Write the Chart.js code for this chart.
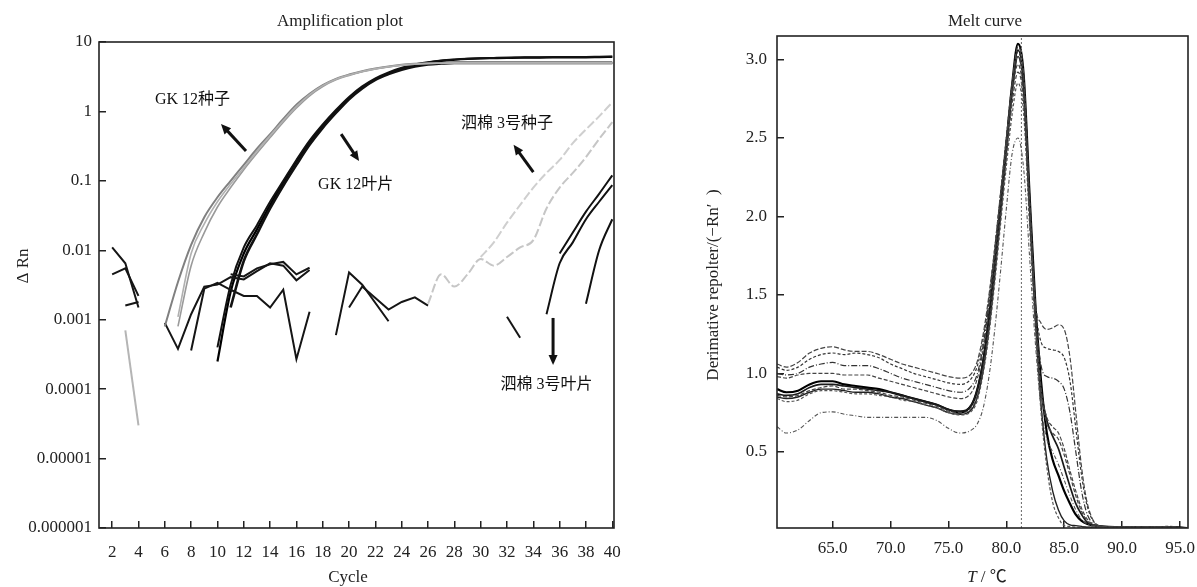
<!DOCTYPE html>
<html>
<head>
<meta charset="utf-8">
<script src="https://cdn.jsdelivr.net/npm/chart.js@4.4.1/dist/chart.umd.min.js"></script>
<style>
  html, body { margin: 0; padding: 0; background: #fff; }
  #amp { position: absolute; left: 0; top: 0; }
  #melt { position: absolute; left: 690px; top: 0; }
</style>
</head>
<body>
<canvas id="amp" width="690" height="587"></canvas>
<canvas id="melt" width="507" height="587"></canvas>
<script>
const _ = null;

// ---- amplification plot data (ΔRn per cycle, null = not drawn) ----
const cycles = [1,2,3,4,5,6,7,8,9,10,11,12,13,14,15,16,17,18,19,20,21,22,23,24,25,26,27,28,29,30,31,32,33,34,35,36,37,38,39,40];
const cycleTicks = [2,4,6,8,10,12,14,16,18,20,22,24,26,28,30,32,34,36,38,40];
const drnTicks = [0.000001, 0.00001, 0.0001, 0.001, 0.01, 0.1, 1, 10];
const drnTickLabels = ['0.000001', '0.00001', '0.0001', '0.001', '0.01', '0.1', '1', '10'];

// GK 12 seed (grey)
const gkSeedA = [_,_,_,_,_, 0.0008,0.0035,0.012,0.03,0.058, 0.1,0.17,0.29,0.47,0.78, 1.25,1.8,2.4,2.95,3.4, 3.8,4.15,4.45,4.7,4.85, 4.95,5.0,5.0,5.0,5.0, 5.0,5.0,5.0,5.0,5.0, 5.0,5.0,5.0,5.0,5.0];
const gkSeedB = [_,_,_,_,_,_, 0.0008,0.006,0.018,0.042, 0.08,0.145,0.25,0.42,0.7, 1.12,1.68,2.28,2.85,3.3, 3.72,4.08,4.38,4.62,4.8, 4.9,4.95,5.0,5.0,5.0, 5.0,5.0,5.0,5.0,5.0, 5.0,5.0,5.0,5.0,5.0];
const gkSeedC = [_,_,_,_,_,_, 0.0011,0.009,0.024,0.05, 0.09,0.155,0.27,0.45,0.74, 1.18,1.75,2.35,2.9,3.35, 3.75,4.1,4.4,4.65,4.8, 4.9,4.95,5.0,5.0,5.0, 5.0,5.0,5.0,5.0,5.0, 5.0,5.0,5.0,5.0,5.0];
// GK 12 leaf (black)
const gkLeafA = [_,_,_,_,_,_,_,_,_, 0.00025, 0.0025,0.009,0.02,0.045,0.095, 0.19,0.36,0.62,1.0,1.55, 2.2,2.9,3.55,4.15,4.65, 5.05,5.35,5.55,5.7,5.8, 5.85,5.9,5.95,5.95,6.0, 6.0,6.0,6.0,6.05,6.1];
const gkLeafB = [_,_,_,_,_,_,_,_,_,_, 0.0015,0.007,0.017,0.04,0.085, 0.17,0.33,0.58,0.95,1.5, 2.15,2.85,3.45,4.0,4.45, 4.75,4.9,5.0,5.0,5.0, 5.0,5.0,5.0,5.0,5.0, 5.0,5.0,5.0,5.0,5.0];
const gkLeafC = [_,_,_,_,_,_,_,_,_, 0.0004, 0.0032,0.011,0.023,0.05,0.1, 0.2,0.38,0.65,1.05,1.62, 2.3,3.0,3.65,4.25,4.75, 5.1,5.4,5.6,5.75,5.85, 5.9,5.95,6.0,6.05,6.05, 6.1,6.1,6.1,6.15,6.2];
// background noise traces
const noiseA  = [_,0.011,0.0065,0.0015,_, _,_,_,_,_, _,_,_,_,_, _,_,_,_,_, _,_,_,_,_, _,_,_,_,_, _,_,_,_,_, _,_,_,_,_];
const noiseB  = [_,0.0045,0.0055,0.0022,_, _,_,_,_,_, _,_,_,_,_, _,_,_,_,_, _,_,_,_,_, _,_,_,_,_, _,_,_,_,_, _,_,_,_,_];
const noiseB2 = [_,_,0.0016,0.0018,_, _,_,_,_,_, _,_,_,_,_, _,_,_,_,_, _,_,_,_,_, _,_,_,_,_, _,_,_,_,_, _,_,_,_,_];
const noiseGrey = [_,_,0.0007,0.00003,_, _,_,_,_,_, _,_,_,_,_, _,_,_,_,_, _,_,_,_,_, _,_,_,_,_, _,_,_,_,_, _,_,_,_,_];
const noiseC  = [_,_,_,_,_, 0.0009,0.00038,0.0012,0.003,0.0032, 0.0041,0.0038,0.005,0.0065,0.006, 0.0037,0.0052,_,_,_, _,_,_,_,_, _,_,_,_,_, _,_,_,_,_, _,_,_,_,_];
const noiseD  = [_,_,_,_,_, _,_,0.00036,0.0028,0.0034, 0.0027,0.0022,0.0022,0.0015,0.0027, 0.00027,0.0013,_,_,_, _,_,_,_,_, _,_,_,_,_, _,_,_,_,_, _,_,_,_,_];
const noiseE  = [_,_,_,_,_, _,_,_,_,_, 0.0045,0.0042,0.0055,0.0063,0.0068, 0.0045,0.0056,_,_,_, _,_,_,_,_, _,_,_,_,_, _,_,_,_,_, _,_,_,_,_];
const noiseF  = [_,_,_,_,_, _,_,_,_,_, _,_,_,_,_, _,_,_,0.0006,0.0048, 0.0032,_,0.00095,_,_, _,_,_,_,_, _,_,_,_,_, _,_,_,_,_];
const noiseG  = [_,_,_,_,_, _,_,_,_,_, _,_,_,_,_, _,_,_,_,0.0015, 0.003,_,0.0014,0.0018,0.0021, 0.0016,_,_,_,_, _,_,_,_,_, _,_,_,_,_];
// Simian 3 seed (light grey) and leaf (black)
const siSeedA = [_,_,_,_,_, _,_,_,_,_, _,_,_,_,_, _,_,_,_,_, _,_,_,_,_, _,_,_,_,0.008, 0.013,0.025,0.045,0.08,0.13, 0.2,0.35,0.55,0.85,1.35];
const siSeedB = [_,_,_,_,_, _,_,_,_,_, _,_,_,_,_, _,_,_,_,_, _,_,_,_,_, 0.0017,0.0045,0.003,0.0045,0.0075, 0.006,0.008,0.011,0.014,0.04, 0.08,0.13,0.22,0.4,0.7];
const siLeafA = [_,_,_,_,_, _,_,_,_,_, _,_,_,_,_, _,_,_,_,_, _,_,_,_,_, _,_,_,_,_, _,_,_,_,0.0012, 0.0065,0.013,0.028,0.05,0.087];
const siLeafB = [_,_,_,_,_, _,_,_,_,_, _,_,_,_,_, _,_,_,_,_, _,_,_,_,_, _,_,_,_,_, _,_,_,_,_, 0.009,0.018,0.036,0.065,0.12];
const siLeafC = [_,_,_,_,_, _,_,_,_,_, _,_,_,_,_, _,_,_,_,_, _,_,_,_,_, _,_,_,_,_, _,_,_,_,_, _,_,0.0017,0.01,0.028];
const siLeafD = [_,_,_,_,_, _,_,_,_,_, _,_,_,_,_, _,_,_,_,_, _,_,_,_,_, _,_,_,_,_, _,0.0011,0.00055,_,_, _,_,_,_,_];

// ---- melt curve data ----
const temps = [60.2,61,62,63,64,65,66,67,68,69,70,71,72,73,74,75,76,77, 77.5,78,78.5,79,79.5,80,80.5,81,81.5,82,82.5,83,83.5,84,84.5,85,85.5,86,86.5,87, 88,90,92,94,95.6];
const tempTicks = [65,70,75,80,85,90,95];
const derivTicks = [0.5,1.0,1.5,2.0,2.5,3.0];
const meltMarkT = 81.3;
const melt1  = [1.06,1.04,1.07,1.13,1.16,1.17,1.15,1.14,1.14,1.12,1.09,1.06,1.04,1.02,1.0,0.98,0.97,1.0, 1.08,1.25,1.5,1.8,2.15,2.5,2.85,3.08,2.9,2.1,1.45,1.32,1.28,1.29,1.31,1.28,1.1,0.75,0.4,0.17, 0.03,0.02,0.02,0.02,0.015];
const melt2  = [1.04,1.02,1.04,1.09,1.12,1.13,1.12,1.13,1.12,1.1,1.06,1.03,1.0,0.98,0.96,0.94,0.93,0.97, 1.05,1.22,1.48,1.8,2.15,2.5,2.85,3.05,2.85,2.15,1.45,1.2,1.16,1.15,1.14,1.1,0.95,0.65,0.35,0.15, 0.03,0.02,0.02,0.025,0.015];
const melt3  = [1.0,0.99,1.0,1.04,1.06,1.07,1.05,1.05,1.05,1.03,1.0,0.97,0.95,0.93,0.91,0.89,0.88,0.92, 1.0,1.18,1.45,1.78,2.12,2.48,2.82,3.02,2.8,2.1,1.4,1.05,0.98,0.97,0.95,0.9,0.75,0.5,0.25,0.1, 0.03,0.02,0.02,0.02,0.015];
const melt4  = [0.98,0.97,0.99,1.0,1.0,1.0,0.99,0.99,0.99,0.97,0.95,0.93,0.91,0.89,0.87,0.85,0.84,0.88, 0.97,1.15,1.42,1.75,2.1,2.45,2.78,2.97,2.75,2.05,1.4,0.9,0.72,0.66,0.62,0.52,0.38,0.25,0.14,0.07, 0.025,0.02,0.02,0.02,0.015];
const melt5  = [0.9,0.88,0.89,0.93,0.95,0.95,0.93,0.92,0.91,0.9,0.88,0.86,0.84,0.82,0.8,0.77,0.75,0.8, 0.9,1.08,1.36,1.7,2.08,2.46,2.84,3.1,2.9,2.15,1.45,0.95,0.62,0.45,0.35,0.25,0.17,0.1,0.06,0.04, 0.025,0.02,0.02,0.02,0.015];
const melt6  = [0.87,0.86,0.87,0.91,0.93,0.93,0.92,0.91,0.9,0.89,0.88,0.86,0.84,0.82,0.8,0.77,0.76,0.8, 0.9,1.08,1.35,1.7,2.08,2.45,2.82,3.06,2.85,2.1,1.4,0.9,0.7,0.6,0.52,0.4,0.28,0.17,0.1,0.05, 0.025,0.02,0.02,0.02,0.015];
const melt7  = [0.86,0.85,0.86,0.89,0.91,0.92,0.9,0.9,0.89,0.88,0.86,0.85,0.83,0.81,0.79,0.76,0.75,0.78, 0.86,1.03,1.3,1.65,2.0,2.38,2.72,2.92,2.72,2.0,1.35,0.88,0.68,0.62,0.58,0.48,0.35,0.22,0.12,0.06, 0.025,0.02,0.02,0.02,0.015];
const melt8  = [0.85,0.84,0.85,0.88,0.9,0.9,0.89,0.88,0.88,0.87,0.85,0.84,0.82,0.8,0.78,0.75,0.74,0.77, 0.85,1.02,1.28,1.62,2.0,2.4,2.78,3.02,2.8,2.05,1.35,0.8,0.45,0.25,0.13,0.06,0.035,0.03,0.025,0.02, 0.02,0.02,0.02,0.02,0.015];
const melt9  = [0.84,0.82,0.83,0.87,0.89,0.89,0.88,0.87,0.87,0.86,0.85,0.83,0.82,0.8,0.78,0.75,0.735,0.76, 0.83,1.0,1.25,1.58,1.95,2.32,2.65,2.85,2.65,1.95,1.3,0.75,0.4,0.18,0.08,0.03,0.025,0.02,0.02,0.02, 0.02,0.02,0.02,0.02,0.015];
const melt10 = [0.66,0.62,0.64,0.7,0.75,0.755,0.74,0.73,0.72,0.72,0.72,0.72,0.72,0.72,0.7,0.65,0.62,0.64, 0.68,0.78,0.98,1.28,1.65,2.05,2.4,2.5,2.3,1.75,1.2,0.78,0.58,0.5,0.42,0.32,0.22,0.13,0.07,0.04, 0.02,0.02,0.02,0.02,0.015];

// ---- annotations (data coordinates) ----
const ampNotes = [
  ['GK 12种子', 8.1, 1.46],
  ['GK 12叶片', 20.5, 0.087],
  ['泗棉 3号种子', 32.0, 0.66],
  ['泗棉 3号叶片', 35.0, 0.000115]
];
const ampArrows = [
  [12.17, 0.269, 10.27, 0.66],
  [19.4, 0.47, 20.76, 0.193],
  [34.0, 0.134, 32.5, 0.33],
  [35.5, 0.00106, 35.5, 0.000223]
];

const FONT = "'Liberation Serif', 'Noto Sans CJK SC', serif";
Chart.defaults.font.family = FONT;
Chart.defaults.font.size = 17;
Chart.defaults.color = '#222';

function points(xs, ys) {
  return xs.map((x, i) => ({ x: x, y: ys[i] }));
}

function arrow(ctx, x1, y1, x2, y2) {
  const ang = Math.atan2(y2 - y1, x2 - x1);
  const h = 11;
  ctx.beginPath();
  ctx.moveTo(x1, y1);
  ctx.lineTo(x2 - Math.cos(ang) * h * 0.7, y2 - Math.sin(ang) * h * 0.7);
  ctx.stroke();
  ctx.beginPath();
  ctx.moveTo(x2, y2);
  ctx.lineTo(x2 - h * Math.cos(ang - 0.42), y2 - h * Math.sin(ang - 0.42));
  ctx.lineTo(x2 - h * Math.cos(ang + 0.42), y2 - h * Math.sin(ang + 0.42));
  ctx.closePath();
  ctx.fill();
}

// box around plot + titles
const frame = {
  id: 'frame',
  afterDraw(chart, args, opts) {
    const { ctx, chartArea: a } = chart;
    ctx.save();
    ctx.strokeStyle = '#222';
    ctx.lineWidth = 1.6;
    ctx.strokeRect(a.left, a.top, a.right - a.left, a.bottom - a.top);
    ctx.fillStyle = '#222';
    ctx.font = '17px ' + FONT;
    ctx.textAlign = 'center';
    ctx.textBaseline = 'middle';
    ctx.fillText(opts.title, opts.titleX, 22);
    if (opts.xTitle) ctx.fillText(opts.xTitle, opts.xTitleX, 578);
    ctx.translate(opts.yTitleX, opts.yTitleY);
    ctx.rotate(-Math.PI / 2);
    ctx.fillText(opts.yTitle, 0, 0);
    ctx.restore();
  }
};

const notes = {
  id: 'notes',
  afterDraw(chart) {
    const { ctx, scales } = chart;
    ctx.save();
    ctx.fillStyle = '#111';
    ctx.strokeStyle = '#111';
    ctx.lineWidth = 3;
    ctx.font = '16px ' + FONT;
    ctx.textAlign = 'center';
    ctx.textBaseline = 'middle';
    ampNotes.forEach(n => {
      ctx.fillText(n[0], scales.x.getPixelForValue(n[1]), scales.y.getPixelForValue(n[2]));
    });
    ampArrows.forEach(r => {
      arrow(ctx,
        scales.x.getPixelForValue(r[0]), scales.y.getPixelForValue(r[1]),
        scales.x.getPixelForValue(r[2]), scales.y.getPixelForValue(r[3]));
    });
    ctx.restore();
  }
};

const tempLabel = {
  id: 'tempLabel',
  afterDraw(chart) {
    const ctx = chart.ctx;
    ctx.save();
    ctx.fillStyle = '#222';
    ctx.textBaseline = 'middle';
    ctx.textAlign = 'left';
    ctx.font = 'italic 17px ' + FONT;
    const t = 'T';
    const rest = ' / ℃';
    const w1 = ctx.measureText(t).width;
    ctx.font = '17px ' + FONT;
    const w2 = ctx.measureText(rest).width;
    const x0 = 297 - (w1 + w2) / 2;
    ctx.font = 'italic 17px ' + FONT;
    ctx.fillText(t, x0, 578);
    ctx.font = '17px ' + FONT;
    ctx.fillText(rest, x0 + w1, 578);
    ctx.restore();
  }
};

function ampLine(vals, color, width, extra) {
  return Object.assign({
    data: points(cycles, vals),
    borderColor: color,
    borderWidth: width,
    pointRadius: 0,
    fill: false,
    cubicInterpolationMode: 'monotone'
  }, extra || {});
}
function noiseLine(vals, color) {
  return { data: points(cycles, vals), borderColor: color || '#151515', borderWidth: 2,
    pointRadius: 0, tension: 0, spanGaps: true };
}

const insideTicks = (len) => ({ display: true, drawOnChartArea: false, drawTicks: true,
  tickLength: -len, color: '#222', lineWidth: 1.5 });

function fixX(h) {
  return s => { s.height = h; s.paddingLeft = 0; s.paddingRight = 0; };
}
function fixY(w) {
  return s => { s.width = w; s.paddingTop = 0; s.paddingBottom = 0; };
}

new Chart(document.getElementById('amp'), {
  type: 'line',
  data: {
    datasets: [
      noiseLine(noiseGrey, '#b5b5b5'),
      ampLine(siSeedB, '#c6c6c6', 2, { borderDash: [9, 3] }),
      ampLine(siSeedA, '#cfcfcf', 2, { borderDash: [9, 3] }),
      ampLine(gkSeedC, '#b0b0b0', 1.6),
      ampLine(gkSeedB, '#9a9a9a', 1.6),
      ampLine(gkSeedA, '#808080', 2),
      noiseLine(noiseA), noiseLine(noiseB), noiseLine(noiseB2),
      noiseLine(noiseC), noiseLine(noiseD), noiseLine(noiseE),
      noiseLine(noiseF), noiseLine(noiseG),
      ampLine(gkLeafB, '#111', 2.6),
      ampLine(gkLeafC, '#111', 2),
      ampLine(gkLeafA, '#000', 2.2),
      ampLine(siLeafA, '#111', 2),
      ampLine(siLeafB, '#111', 2),
      ampLine(siLeafC, '#111', 2),
      noiseLine(siLeafD)
    ]
  },
  options: {
    responsive: false,
    animation: false,
    layout: { padding: { top: 42, right: 76, bottom: 0, left: 0 } },
    plugins: {
      legend: { display: false },
      tooltip: { enabled: false },
      frame: { title: 'Amplification plot', titleX: 340, xTitle: 'Cycle', xTitleX: 348,
               yTitle: 'Δ Rn', yTitleX: 24, yTitleY: 266 }
    },
    scales: {
      x: {
        type: 'linear', min: 1, max: 40.13,
        afterFit: fixX(59),
        afterBuildTicks: s => { s.ticks = cycleTicks.map(v => ({ value: v })); },
        ticks: { autoSkip: false, maxRotation: 0, padding: 21, callback: v => String(v) },
        grid: insideTicks(7),
        border: { display: false }
      },
      y: {
        type: 'logarithmic', min: 0.000001, max: 10,
        afterFit: fixY(99),
        afterBuildTicks: s => { s.ticks = drnTicks.map(v => ({ value: v })); },
        ticks: { autoSkip: false, padding: 14,
                 callback: v => drnTickLabels[drnTicks.indexOf(v)] },
        grid: insideTicks(7),
        border: { display: false }
      }
    }
  },
  plugins: [frame, notes]
});

function meltLine(vals, color, width, dash) {
  return { data: points(temps, vals), borderColor: color, borderWidth: width,
    borderDash: dash || [], pointRadius: 0, cubicInterpolationMode: 'monotone' };
}

new Chart(document.getElementById('melt'), {
  type: 'line',
  data: {
    datasets: [
      { data: [{ x: meltMarkT, y: 0.015 }, { x: meltMarkT, y: 3.15 }], borderColor: '#666',
        borderWidth: 1, borderDash: [2, 2], pointRadius: 0 },
      meltLine(melt10, '#555', 1.1, [4, 2, 1, 2]),
      meltLine(melt1, '#444', 1.2, [5, 2]),
      meltLine(melt2, '#333', 1.2, [3, 2]),
      meltLine(melt3, '#333', 1.2, [6, 2, 1, 2]),
      meltLine(melt4, '#444', 1.2, [4, 2]),
      meltLine(melt7, '#444', 1.2, [4, 2]),
      meltLine(melt9, '#555', 1.2, [3, 2]),
      meltLine(melt8, '#222', 1.4),
      meltLine(melt6, '#1a1a1a', 1.7),
      meltLine(melt5, '#000', 2.2)
    ]
  },
  options: {
    responsive: false,
    animation: false,
    layout: { padding: { top: 36, right: 9, bottom: 0, left: 0 } },
    plugins: {
      legend: { display: false },
      tooltip: { enabled: false },
      frame: { title: 'Melt curve', titleX: 295, xTitle: '',
               yTitle: 'Derimative repolter/(−Rn′  )', yTitleX: 24, yTitleY: 285 }
    },
    scales: {
      x: {
        type: 'linear', min: 60.19, max: 95.69,
        afterFit: fixX(59),
        afterBuildTicks: s => { s.ticks = tempTicks.map(v => ({ value: v })); },
        ticks: { autoSkip: false, maxRotation: 0, padding: 17, callback: v => v.toFixed(1) },
        grid: insideTicks(7),
        border: { display: false }
      },
      y: {
        type: 'linear', min: 0.015, max: 3.15,
        afterFit: fixY(87),
        afterBuildTicks: s => { s.ticks = derivTicks.map(v => ({ value: v })); },
        ticks: { autoSkip: false, padding: 17, callback: v => v.toFixed(1) },
        grid: insideTicks(7),
        border: { display: false }
      }
    }
  },
  plugins: [frame, tempLabel]
});
</script>
</body>
</html>
